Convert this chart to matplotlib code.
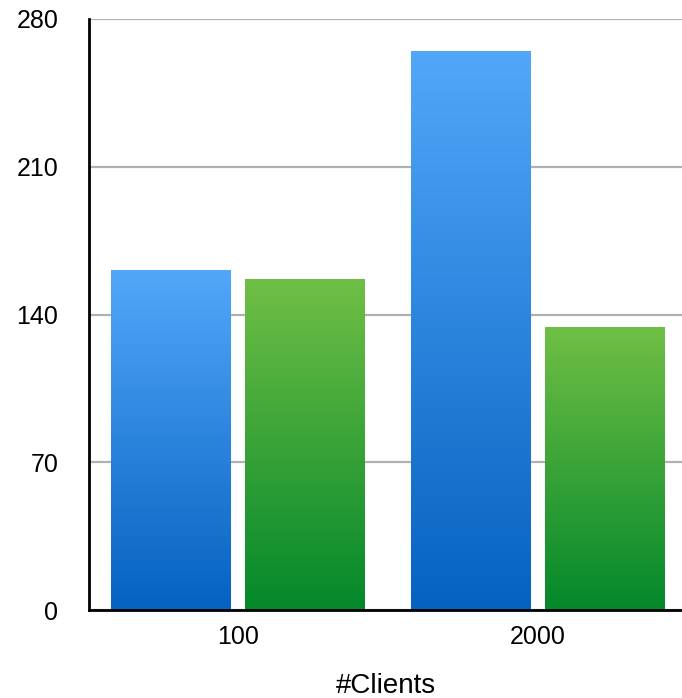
import numpy as np
import matplotlib
matplotlib.use("Agg")
import matplotlib.pyplot as plt
from matplotlib.colors import LinearSegmentedColormap

# Data
clients = ["100", "2000"]
series_blue = [161, 265]
series_green = [157, 134]
y_ticks = [0, 70, 140, 210, 280]

plt.rcParams["font.family"] = ["Liberation Sans", "DejaVu Sans"]

W, H = 682, 698
fig = plt.figure(figsize=(W / 100, H / 100), dpi=100)
ax = fig.add_axes([89 / W, 1 - 610 / H, (W - 89) / W, (610 - 19) / H])

blue_cmap = LinearSegmentedColormap.from_list("blue", ["#0562C0", "#52A7F9"])
green_cmap = LinearSegmentedColormap.from_list("green", ["#03882B", "#70BF45"])

x = np.arange(len(clients))
width = 0.400
offset = 0.222


def gradient_bars(xs, heights, cmap):
    bars = ax.bar(xs, heights, width, color="none", zorder=3)
    grad = np.linspace(0, 1, 256).reshape(-1, 1)
    for bar in bars:
        x0, y0 = bar.get_x(), bar.get_y()
        w, h = bar.get_width(), bar.get_height()
        im = ax.imshow(grad, cmap=cmap, origin="lower", aspect="auto",
                       extent=[x0, x0 + w, y0, y0 + h], zorder=3)
        im.set_clip_path(bar)
    return bars


gradient_bars(x - offset, series_blue, blue_cmap)
gradient_bars(x + offset, series_green, green_cmap)

ax.set_xlim(-0.497, 1.48)
ax.set_ylim(0, 280)
ax.set_yticks(y_ticks)
ax.set_xticks(x)
ax.set_xticklabels(clients)

ax.yaxis.grid(True, color="#B0B0B0", linewidth=1.6, zorder=0)
ax.set_axisbelow(True)

for side in ("top", "right"):
    ax.spines[side].set_visible(False)
for side in ("left", "bottom"):
    ax.spines[side].set_color("black")
    ax.spines[side].set_linewidth(2)
    ax.spines[side].set_zorder(5)

ax.tick_params(axis="y", length=0, pad=22, labelsize=18)
ax.tick_params(axis="x", length=0, pad=11, labelsize=18)
ax.set_xlabel("#Clients", fontsize=20, labelpad=17)

fig.savefig("out.png", dpi=100)
